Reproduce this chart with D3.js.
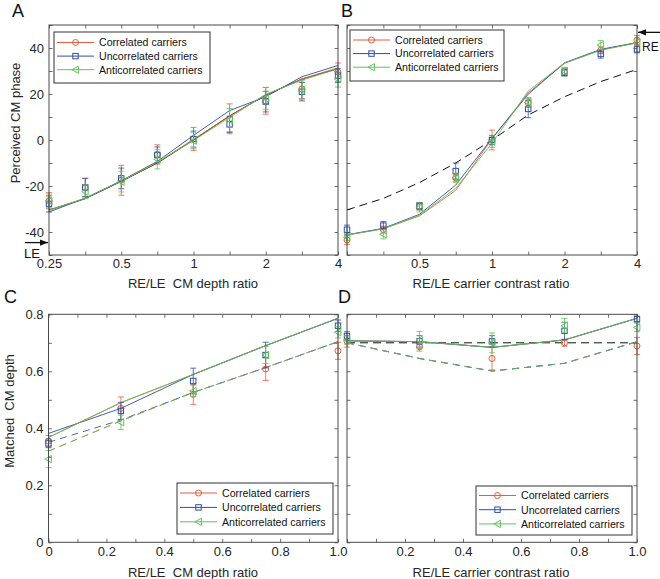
<!DOCTYPE html>
<html>
<head>
<meta charset="utf-8">
<script src="https://cdn.jsdelivr.net/npm/d3@7"></script>
<style>
  html, body { margin: 0; padding: 0; background: #fff; }
  svg { display: block; font-family: "Liberation Sans", Arial, Helvetica, sans-serif; }
</style>
</head>
<body>
<svg id="chart" width="660" height="579"></svg>
<script>
// ---------------- DATA ----------------
const seriesNames = ["Correlated carriers", "Uncorrelated carriers", "Anticorrelated carriers"];

// Panel A: RE/LE CM depth ratio vs perceived CM phase
const ratiosA = [0.25, 0.354, 0.5, 0.707, 1, 1.414, 2, 2.828, 4];
const aCorr   = [-26.4, -20.8, -17.5, -6.3, 0.5, 9.2, 17.0, 22.2, 29.5];
const aUncorr = [-27.8, -20.6, -16.7, -6.5, 0.4, 6.8, 16.7, 21.0, 28.0];
const aAnti   = [-26.5, -22.5, -18.1, -8.4, -0.3, 8.7, 18.1, 21.7, 26.5];
const aCorrErr   = [3.5, 4.0, 6.5, 4.2, 5.0, 6.5, 5.8, 4.2, 4.0];
const aUncorrErr = [3.5, 4.0, 4.5, 3.5, 3.5, 3.5, 4.5, 4.0, 3.0];
const aAntiErr   = [3.0, 3.0, 4.5, 4.2, 3.5, 5.0, 4.8, 4.0, 3.5];
const aCorrFit   = [-30.4, -25.4, -17.9, -9.8, 0.3, 10.4, 19.6, 26.5, 31.4];
const aUncorrFit = [-31.3, -25.3, -17.7, -9.3, 2.0, 12.8, 18.8, 27.5, 32.4];
const aAntiFit   = [-30.6, -25.3, -17.8, -9.6, -0.2, 9.8, 19.9, 26.0, 31.0];
const aModel     = [-30.5, -25.5, -18.0, -10.0, 0.0, 10.5, 19.5, 26.5, 31.0];

// Panel B: RE/LE carrier contrast ratio vs perceived CM phase
const ratiosB = [0.25, 0.354, 0.5, 0.707, 1, 1.414, 2, 2.828, 4];
const bCorr   = [-43.5, -39.0, -29.0, -16.4, 0.0, 16.2, 29.7, 39.0, 43.5];
const bUncorr = [-39.0, -37.2, -28.7, -13.5, 0.0, 13.5, 29.3, 37.4, 39.4];
const bAnti   = [-42.3, -41.0, -29.3, -16.4, -0.7, 16.4, 30.1, 41.3, 42.5];
const bCorrErr   = [2.0, 1.5, 1.5, 1.5, 4.3, 2.0, 1.5, 1.5, 2.0];
const bUncorrErr = [2.0, 1.8, 1.5, 3.5, 2.0, 3.8, 1.5, 1.8, 1.5];
const bAntiErr   = [1.5, 2.0, 2.0, 2.0, 2.5, 2.0, 1.5, 2.0, 1.5];
const bCorrFit   = [-41.3, -38.6, -33.0, -21.9, 0.5, 20.5, 33.3, 39.2, 42.2];
const bUncorrFit = [-41.2, -38.4, -32.3, -19.6, 0.7, 19.9, 33.6, 39.4, 42.4];
const bAntiFit   = [-41.3, -38.6, -32.7, -21.0, -1.4, 21.3, 33.5, 39.0, 42.3];
const bModel     = [-30.4, -25.4, -18.5, -10.0, 0.0, 10.9, 18.8, 25.4, 30.7];

// Panel C: RE/LE CM depth ratio vs matched CM depth
const ratiosC = [0, 0.25, 0.5, 0.75, 1];
const cCorr   = [0.355, 0.470, 0.519, 0.608, 0.672];
const cUncorr = [0.347, 0.461, 0.566, 0.657, 0.760];
const cAnti   = [0.292, 0.421, 0.531, 0.657, 0.737];
const cCorrErr   = [0.02, 0.04, 0.035, 0.04, 0.03];
const cUncorrErr = [0.015, 0.03, 0.045, 0.045, 0.02];
const cAntiErr   = [0.03, 0.025, 0.02, 0.03, 0.02];
const cCorrFit     = [0.368, 0.490, 0.589, 0.690, 0.786];
const cUncorrFit   = [0.382, 0.470, 0.589, 0.690, 0.786];
const cAntiFit     = [0.368, 0.490, 0.589, 0.690, 0.786];
const cCorrDash    = [0.320, 0.426, 0.526, 0.613, 0.704];
const cUncorrDash  = [0.351, 0.429, 0.526, 0.613, 0.704];
const cAntiDash    = [0.320, 0.426, 0.526, 0.613, 0.704];

// Panel D: RE/LE carrier contrast ratio vs matched CM depth
const ratiosD = [0, 0.25, 0.5, 0.75, 1];
const dCorr   = [0.705, 0.686, 0.645, 0.700, 0.689];
const dUncorr = [0.724, 0.705, 0.705, 0.742, 0.783];
const dAnti   = [0.710, 0.710, 0.700, 0.760, 0.754];
const dCorrErr   = [0.02, 0.015, 0.04, 0.012, 0.03];
const dUncorrErr = [0.015, 0.02, 0.02, 0.03, 0.01];
const dAntiErr   = [0.015, 0.03, 0.035, 0.025, 0.015];
const dFit       = [0.707, 0.704, 0.684, 0.710, 0.786];
const dDash      = [0.700, 0.645, 0.601, 0.628, 0.704];
const dReference = [0.7, 0.7, 0.7, 0.7, 0.7];

// Tick labels
const phaseTickLabels = [-40, -20, 0, 20, 40];
const phaseMinorTicks = [-50, -40, -30, -20, -10, 0, 10, 20, 30, 40, 50];
const ratioLogLabelsA = [0.25, 0.5, 1, 2, 4];
const ratioLogLabelsB = [0.5, 1, 2, 4];
const depthTickLabels = [0, 0.2, 0.4, 0.6, 0.8];
const depthMinorTicks = [0, 0.1, 0.2, 0.3, 0.4, 0.5, 0.6, 0.7, 0.8];
const linTickLabelsC = ["0", "0.2", "0.4", "0.6", "0.8", "1.0"];
const linTickLabelsD = ["", "0.2", "0.4", "0.6", "0.8", "1.0"];
const linTickValues = [0, 0.2, 0.4, 0.6, 0.8, 1.0];
const linMinorTicks = [0, 0.1, 0.2, 0.3, 0.4, 0.5, 0.6, 0.7, 0.8, 0.9, 1.0];

// ---------------- STYLE ----------------
const colors = ["#ea5a3c", "#2e4fa6", "#5ec45a"];
const markers = ["circle", "square", "triangle"];
const axisColor = "#4a4a4a";
const textColor = "#262626";

const svg = d3.select("#chart");

function drawMarker(g, type, x, y, color) {
  if (type === "circle") {
    g.append("circle").attr("cx", x).attr("cy", y).attr("r", 3)
      .attr("fill", "none").attr("stroke", color).attr("stroke-width", 1);
  } else if (type === "square") {
    g.append("rect").attr("x", x - 2.7).attr("y", y - 2.7).attr("width", 5.4).attr("height", 5.4)
      .attr("fill", "none").attr("stroke", color).attr("stroke-width", 1);
  } else {
    const s = 3.6;
    g.append("path").attr("d", `M${x - s},${y} L${x + s * 0.8},${y - s} L${x + s * 0.8},${y + s} Z`)
      .attr("fill", "none").attr("stroke", color).attr("stroke-width", 1);
  }
}

function drawPanel(p) {
  const g = svg.append("g");
  const x = p.x, y = p.y;
  const [x0, x1] = x.range();
  const [y0, y1] = y.range();

  const clipId = "clip" + p.letter;
  svg.append("clipPath").attr("id", clipId).append("rect")
    .attr("x", x0).attr("y", y1).attr("width", x1 - x0).attr("height", y0 - y1);

  const tk = 3.5;
  const bottom = g.append("g").attr("transform", `translate(0,${y0})`)
    .call(d3.axisBottom(x).tickValues(p.xMinor).tickSize(-tk).tickFormat(""));
  const top = g.append("g").attr("transform", `translate(0,${y1})`)
    .call(d3.axisTop(x).tickValues(p.xMinor).tickSize(-tk).tickFormat(""));
  const left = g.append("g").attr("transform", `translate(${x0},0)`)
    .call(d3.axisLeft(y).tickValues(p.yMinor).tickSize(-tk).tickFormat(""));
  const right = g.append("g").attr("transform", `translate(${x1},0)`)
    .call(d3.axisRight(y).tickValues(p.yMinor).tickSize(-tk).tickFormat(""));
  [bottom, top, left, right].forEach(a => {
    a.select(".domain").remove();
    a.selectAll("line").attr("stroke", axisColor).attr("stroke-width", 0.8);
  });

  const xl = g.append("g").attr("transform", `translate(0,${y0})`)
    .call(d3.axisBottom(x).tickValues(p.xLabelVals).tickSize(0).tickPadding(4)
      .tickFormat((d, i) => p.xLabelText[i]));
  xl.select(".domain").remove();
  xl.selectAll("text").attr("font-size", 13).attr("fill", textColor)
    .attr("font-family", "Liberation Sans, Arial, sans-serif");
  if (p.yLabelVals) {
    const yl = g.append("g").attr("transform", `translate(${x0},0)`)
      .call(d3.axisLeft(y).tickValues(p.yLabelVals).tickSize(0).tickPadding(5)
        .tickFormat(p.yFormat));
    yl.select(".domain").remove();
    yl.selectAll("text").attr("font-size", 13).attr("fill", textColor)
      .attr("font-family", "Liberation Sans, Arial, sans-serif");
  }

  const plot = g.append("g").attr("clip-path", `url(#${clipId})`);
  const line = d3.line().x(d => x(d[0])).y(d => y(d[1]));

  (p.blackLines || []).forEach(bl => {
    plot.append("path").datum(p.xs.map((v, i) => [v, bl.values[i]]))
      .attr("d", line).attr("fill", "none").attr("stroke", "#111")
      .attr("stroke-width", 1).attr("stroke-dasharray", bl.dash || null);
  });

  (p.dashLines || []).forEach((vals, s) => {
    plot.append("path").datum(p.xs.map((v, i) => [v, vals[i]]))
      .attr("d", line).attr("fill", "none").attr("stroke", colors[s])
      .attr("stroke-width", 1).attr("stroke-dasharray", "7,5").attr("opacity", 0.85);
  });

  p.fits.forEach((vals, s) => {
    plot.append("path").datum(p.xs.map((v, i) => [v, vals[i]]))
      .attr("d", line).attr("fill", "none").attr("stroke", colors[s])
      .attr("stroke-width", 1).attr("opacity", 0.9);
  });

  p.means.forEach((vals, s) => {
    const eg = g.append("g");
    vals.forEach((v, i) => {
      const cx = x(p.xs[i]);
      const e = p.errs[s][i];
      const yt = y(v + e), yb = y(v - e);
      const cap = 3;
      eg.append("line").attr("x1", cx).attr("x2", cx).attr("y1", yt).attr("y2", yb)
        .attr("stroke", colors[s]).attr("stroke-width", 0.8);
      [yt, yb].forEach(yy => eg.append("line").attr("x1", cx - cap).attr("x2", cx + cap)
        .attr("y1", yy).attr("y2", yy).attr("stroke", colors[s]).attr("stroke-width", 0.8));
      drawMarker(eg, markers[s], cx, y(v), colors[s]);
    });
  });

  g.append("rect").attr("x", x0).attr("y", y1).attr("width", x1 - x0).attr("height", y0 - y1)
    .attr("fill", "none").attr("stroke", axisColor).attr("stroke-width", 1);

  const L = p.legend;
  const lg = g.append("g");
  lg.append("rect").attr("x", L.x).attr("y", L.y).attr("width", L.w).attr("height", L.h)
    .attr("fill", "#fff").attr("stroke", "#333").attr("stroke-width", 1);
  seriesNames.forEach((name, s) => {
    const yy = L.y + L.first + s * L.step;
    lg.append("line").attr("x1", L.x + 3).attr("x2", L.x + 40).attr("y1", yy).attr("y2", yy)
      .attr("stroke", colors[s]).attr("stroke-width", 1);
    drawMarker(lg, markers[s], L.x + 21.5, yy, colors[s]);
    lg.append("text").attr("x", L.x + 45).attr("y", yy).attr("dy", "0.36em")
      .attr("font-size", 10.6).attr("fill", "#111").text(name);
  });

  g.append("text").attr("x", p.letterPos[0]).attr("y", p.letterPos[1])
    .attr("font-size", 18).attr("fill", "#111").text(p.letter);

  g.append("text").attr("x", p.xTitlePos[0]).attr("y", p.xTitlePos[1])
    .attr("text-anchor", "middle").attr("font-size", 13).attr("fill", textColor)
    .style("white-space", "pre").text(p.xTitle);
  if (p.yTitle) {
    g.append("text").attr("transform", `translate(${p.yTitlePos[0]},${p.yTitlePos[1]}) rotate(-90)`)
      .attr("text-anchor", "middle").attr("font-size", 13).attr("fill", textColor)
      .style("white-space", "pre").text(p.yTitle);
  }
  return g;
}

const yPhaseA = d3.scaleLinear().domain([-50, 50]).range([255, 25]);
const yPhaseB = d3.scaleLinear().domain([-50, 50]).range([255, 25]);
const xA = d3.scaleLog().domain([0.25, 4]).range([49, 338]);
const xB = d3.scaleLog().domain([0.25, 4]).range([347, 637]);
const yC = d3.scaleLinear().domain([0, 0.8]).range([542.3, 314.3]);
const xC = d3.scaleLinear().domain([0, 1]).range([48.5, 338]);
const xD = d3.scaleLinear().domain([0, 1]).range([347, 637]);

drawPanel({
  letter: "A", letterPos: [12, 17], x: xA, y: yPhaseA, xs: ratiosA,
  xMinor: ratiosA, yMinor: phaseMinorTicks,
  xLabelVals: ratioLogLabelsA, xLabelText: ratioLogLabelsA.map(String),
  yLabelVals: phaseTickLabels, yFormat: d => String(d),
  means: [aCorr, aUncorr, aAnti], errs: [aCorrErr, aUncorrErr, aAntiErr],
  fits: [aCorrFit, aUncorrFit, aAntiFit],
  blackLines: [{ values: aModel }],
  legend: { x: 54, y: 32, w: 156, h: 51, first: 10.5, step: 13.6 },
  xTitle: "RE/LE  CM depth ratio", xTitlePos: [193, 288],
  yTitle: "Perceived CM phase", yTitlePos: [20, 123]
});

drawPanel({
  letter: "B", letterPos: [341, 17], x: xB, y: yPhaseB, xs: ratiosB,
  xMinor: ratiosB, yMinor: phaseMinorTicks,
  xLabelVals: ratioLogLabelsB, xLabelText: ratioLogLabelsB.map(String),
  yLabelVals: null,
  means: [bCorr, bUncorr, bAnti], errs: [bCorrErr, bUncorrErr, bAntiErr],
  fits: [bCorrFit, bUncorrFit, bAntiFit],
  blackLines: [{ values: bModel, dash: "8,5" }],
  legend: { x: 350, y: 30, w: 154, h: 51, first: 10, step: 13.6 },
  xTitle: "RE/LE carrier contrast ratio", xTitlePos: [491, 288]
});

drawPanel({
  letter: "C", letterPos: [4, 303], x: xC, y: yC, xs: ratiosC,
  xMinor: linMinorTicks, yMinor: depthMinorTicks,
  xLabelVals: linTickValues, xLabelText: linTickLabelsC,
  yLabelVals: depthTickLabels, yFormat: d => (d === 0 ? "0" : d3.format(".1f")(d)),
  means: [cCorr, cUncorr, cAnti], errs: [cCorrErr, cUncorrErr, cAntiErr],
  fits: [cCorrFit, cUncorrFit, cAntiFit],
  dashLines: [cCorrDash, cUncorrDash, cAntiDash],
  legend: { x: 177, y: 483, w: 156, h: 51, first: 10, step: 14.4 },
  xTitle: "RE/LE  CM depth ratio", xTitlePos: [193, 577],
  yTitle: "Matched  CM depth", yTitlePos: [14, 411]
});

drawPanel({
  letter: "D", letterPos: [338, 303], x: xD, y: yC, xs: ratiosD,
  xMinor: linMinorTicks, yMinor: depthMinorTicks,
  xLabelVals: linTickValues, xLabelText: linTickLabelsD,
  yLabelVals: null,
  means: [dCorr, dUncorr, dAnti], errs: [dCorrErr, dUncorrErr, dAntiErr],
  fits: [dFit, dFit, dFit],
  dashLines: [dDash, dDash, dDash],
  blackLines: [{ values: dReference, dash: "8,5" }],
  legend: { x: 476, y: 486, w: 156, h: 49, first: 9.5, step: 14.2 },
  xTitle: "RE/LE carrier contrast ratio", xTitlePos: [491, 577]
});

// LE / RE arrows
const defs = svg.append("defs");
defs.append("marker").attr("id", "arrowhead").attr("viewBox", "0 0 10 10")
  .attr("refX", 10).attr("refY", 5).attr("markerWidth", 8).attr("markerHeight", 8)
  .attr("markerUnits", "userSpaceOnUse").attr("orient", "auto")
  .append("path").attr("d", "M0,1 L10,5 L0,9 Z").attr("fill", "#111");

const leY = yPhaseA(-44.6);
svg.append("line").attr("x1", xA.range()[0] - 24).attr("x2", xA.range()[0] - 1)
  .attr("y1", leY).attr("y2", leY).attr("stroke", "#111").attr("stroke-width", 1.3)
  .attr("marker-end", "url(#arrowhead)");
svg.append("text").attr("x", 24).attr("y", 258).attr("font-size", 13).attr("fill", "#111").text("LE");

const reY = yPhaseB(46.8);
svg.append("line").attr("x1", 660).attr("x2", xB.range()[1] + 1)
  .attr("y1", reY).attr("y2", reY).attr("stroke", "#111").attr("stroke-width", 1.3)
  .attr("marker-end", "url(#arrowhead)");
svg.append("text").attr("x", 642).attr("y", 51).attr("font-size", 12).attr("fill", "#111").text("RE");
</script>
</body>
</html>
